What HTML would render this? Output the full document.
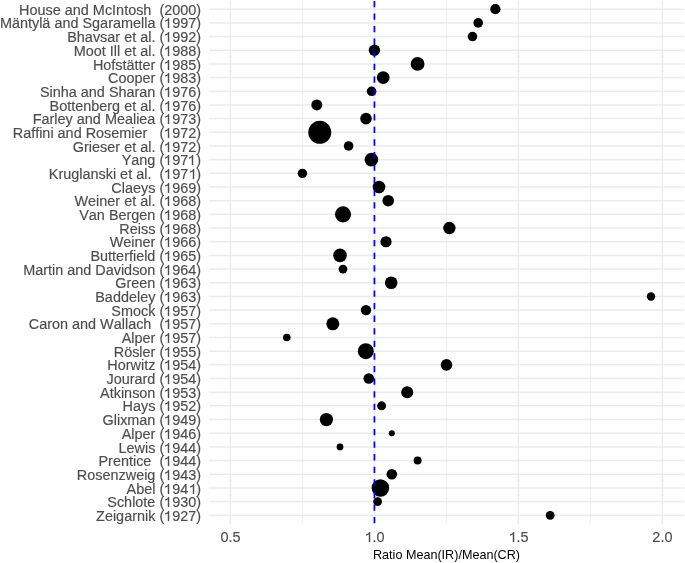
<!DOCTYPE html><html><head><meta charset="utf-8"><style>html,body{margin:0;padding:0;background:#fff;width:685px;height:563px;overflow:hidden}svg{display:block;will-change:transform}text{font-family:"Liberation Sans",sans-serif;font-kerning:none}</style></head><body>
<svg width="685" height="563" viewBox="0 0 685 563">
<rect width="685" height="563" fill="#fff"/>
<line x1="302.44" y1="0.99" x2="302.44" y2="523.7" stroke="#EBEBEB" stroke-width="0.8"/>
<line x1="446.43" y1="0.99" x2="446.43" y2="523.7" stroke="#EBEBEB" stroke-width="0.8"/>
<line x1="590.41" y1="0.99" x2="590.41" y2="523.7" stroke="#EBEBEB" stroke-width="0.8"/>
<line x1="230.45" y1="0.99" x2="230.45" y2="523.7" stroke="#EBEBEB" stroke-width="1.5"/>
<line x1="374.44" y1="0.99" x2="374.44" y2="523.7" stroke="#EBEBEB" stroke-width="1.5"/>
<line x1="518.42" y1="0.99" x2="518.42" y2="523.7" stroke="#EBEBEB" stroke-width="1.5"/>
<line x1="662.40" y1="0.99" x2="662.40" y2="523.7" stroke="#EBEBEB" stroke-width="1.5"/>
<line x1="209.0" y1="9.20" x2="684.0" y2="9.20" stroke="#EBEBEB" stroke-width="1.5"/>
<line x1="209.0" y1="22.88" x2="684.0" y2="22.88" stroke="#EBEBEB" stroke-width="1.5"/>
<line x1="209.0" y1="36.56" x2="684.0" y2="36.56" stroke="#EBEBEB" stroke-width="1.5"/>
<line x1="209.0" y1="50.23" x2="684.0" y2="50.23" stroke="#EBEBEB" stroke-width="1.5"/>
<line x1="209.0" y1="63.91" x2="684.0" y2="63.91" stroke="#EBEBEB" stroke-width="1.5"/>
<line x1="209.0" y1="77.59" x2="684.0" y2="77.59" stroke="#EBEBEB" stroke-width="1.5"/>
<line x1="209.0" y1="91.27" x2="684.0" y2="91.27" stroke="#EBEBEB" stroke-width="1.5"/>
<line x1="209.0" y1="104.95" x2="684.0" y2="104.95" stroke="#EBEBEB" stroke-width="1.5"/>
<line x1="209.0" y1="118.62" x2="684.0" y2="118.62" stroke="#EBEBEB" stroke-width="1.5"/>
<line x1="209.0" y1="132.30" x2="684.0" y2="132.30" stroke="#EBEBEB" stroke-width="1.5"/>
<line x1="209.0" y1="145.98" x2="684.0" y2="145.98" stroke="#EBEBEB" stroke-width="1.5"/>
<line x1="209.0" y1="159.66" x2="684.0" y2="159.66" stroke="#EBEBEB" stroke-width="1.5"/>
<line x1="209.0" y1="173.34" x2="684.0" y2="173.34" stroke="#EBEBEB" stroke-width="1.5"/>
<line x1="209.0" y1="187.01" x2="684.0" y2="187.01" stroke="#EBEBEB" stroke-width="1.5"/>
<line x1="209.0" y1="200.69" x2="684.0" y2="200.69" stroke="#EBEBEB" stroke-width="1.5"/>
<line x1="209.0" y1="214.37" x2="684.0" y2="214.37" stroke="#EBEBEB" stroke-width="1.5"/>
<line x1="209.0" y1="228.05" x2="684.0" y2="228.05" stroke="#EBEBEB" stroke-width="1.5"/>
<line x1="209.0" y1="241.73" x2="684.0" y2="241.73" stroke="#EBEBEB" stroke-width="1.5"/>
<line x1="209.0" y1="255.40" x2="684.0" y2="255.40" stroke="#EBEBEB" stroke-width="1.5"/>
<line x1="209.0" y1="269.08" x2="684.0" y2="269.08" stroke="#EBEBEB" stroke-width="1.5"/>
<line x1="209.0" y1="282.76" x2="684.0" y2="282.76" stroke="#EBEBEB" stroke-width="1.5"/>
<line x1="209.0" y1="296.44" x2="684.0" y2="296.44" stroke="#EBEBEB" stroke-width="1.5"/>
<line x1="209.0" y1="310.12" x2="684.0" y2="310.12" stroke="#EBEBEB" stroke-width="1.5"/>
<line x1="209.0" y1="323.79" x2="684.0" y2="323.79" stroke="#EBEBEB" stroke-width="1.5"/>
<line x1="209.0" y1="337.47" x2="684.0" y2="337.47" stroke="#EBEBEB" stroke-width="1.5"/>
<line x1="209.0" y1="351.15" x2="684.0" y2="351.15" stroke="#EBEBEB" stroke-width="1.5"/>
<line x1="209.0" y1="364.83" x2="684.0" y2="364.83" stroke="#EBEBEB" stroke-width="1.5"/>
<line x1="209.0" y1="378.51" x2="684.0" y2="378.51" stroke="#EBEBEB" stroke-width="1.5"/>
<line x1="209.0" y1="392.18" x2="684.0" y2="392.18" stroke="#EBEBEB" stroke-width="1.5"/>
<line x1="209.0" y1="405.86" x2="684.0" y2="405.86" stroke="#EBEBEB" stroke-width="1.5"/>
<line x1="209.0" y1="419.54" x2="684.0" y2="419.54" stroke="#EBEBEB" stroke-width="1.5"/>
<line x1="209.0" y1="433.22" x2="684.0" y2="433.22" stroke="#EBEBEB" stroke-width="1.5"/>
<line x1="209.0" y1="446.90" x2="684.0" y2="446.90" stroke="#EBEBEB" stroke-width="1.5"/>
<line x1="209.0" y1="460.57" x2="684.0" y2="460.57" stroke="#EBEBEB" stroke-width="1.5"/>
<line x1="209.0" y1="474.25" x2="684.0" y2="474.25" stroke="#EBEBEB" stroke-width="1.5"/>
<line x1="209.0" y1="487.93" x2="684.0" y2="487.93" stroke="#EBEBEB" stroke-width="1.5"/>
<line x1="209.0" y1="501.61" x2="684.0" y2="501.61" stroke="#EBEBEB" stroke-width="1.5"/>
<line x1="209.0" y1="515.29" x2="684.0" y2="515.29" stroke="#EBEBEB" stroke-width="1.5"/>
<circle cx="495.4" cy="9.20" r="5.10" fill="#000"/>
<circle cx="478.2" cy="22.88" r="4.80" fill="#000"/>
<circle cx="472.5" cy="36.56" r="4.75" fill="#000"/>
<circle cx="374.4" cy="50.23" r="5.70" fill="#000"/>
<circle cx="417.6" cy="63.91" r="6.90" fill="#000"/>
<circle cx="383.2" cy="77.59" r="6.40" fill="#000"/>
<circle cx="371.6" cy="91.27" r="4.80" fill="#000"/>
<circle cx="316.8" cy="104.95" r="5.50" fill="#000"/>
<circle cx="366.0" cy="118.62" r="5.80" fill="#000"/>
<circle cx="319.8" cy="132.30" r="11.50" fill="#000"/>
<circle cx="348.6" cy="145.98" r="4.80" fill="#000"/>
<circle cx="371.4" cy="159.66" r="6.80" fill="#000"/>
<circle cx="302.4" cy="173.34" r="4.70" fill="#000"/>
<circle cx="379.0" cy="187.01" r="6.30" fill="#000"/>
<circle cx="388.2" cy="200.69" r="5.80" fill="#000"/>
<circle cx="343.0" cy="214.37" r="8.10" fill="#000"/>
<circle cx="449.4" cy="228.05" r="6.20" fill="#000"/>
<circle cx="386.0" cy="241.73" r="5.60" fill="#000"/>
<circle cx="340.0" cy="255.40" r="6.80" fill="#000"/>
<circle cx="343.0" cy="269.08" r="4.40" fill="#000"/>
<circle cx="391.2" cy="282.76" r="6.30" fill="#000"/>
<circle cx="651.0" cy="296.44" r="4.20" fill="#000"/>
<circle cx="366.0" cy="310.12" r="5.20" fill="#000"/>
<circle cx="332.8" cy="323.79" r="6.50" fill="#000"/>
<circle cx="286.8" cy="337.47" r="3.80" fill="#000"/>
<circle cx="365.8" cy="351.15" r="8.00" fill="#000"/>
<circle cx="446.5" cy="364.83" r="5.80" fill="#000"/>
<circle cx="368.8" cy="378.51" r="5.30" fill="#000"/>
<circle cx="407.2" cy="392.18" r="6.00" fill="#000"/>
<circle cx="381.6" cy="405.86" r="4.50" fill="#000"/>
<circle cx="326.4" cy="419.54" r="6.60" fill="#000"/>
<circle cx="391.8" cy="433.22" r="3.00" fill="#000"/>
<circle cx="340.0" cy="446.90" r="3.40" fill="#000"/>
<circle cx="417.6" cy="460.57" r="4.00" fill="#000"/>
<circle cx="391.8" cy="474.25" r="5.30" fill="#000"/>
<circle cx="380.4" cy="487.93" r="8.80" fill="#000"/>
<circle cx="377.6" cy="501.61" r="4.40" fill="#000"/>
<circle cx="550.2" cy="515.29" r="4.40" fill="#000"/>
<clipPath id="pc"><rect x="209.0" y="0.99" width="475.0" height="522.71"/></clipPath>
<line clip-path="url(#pc)" x1="374.44" y1="0.99" x2="374.44" y2="523.7" stroke="#0000FF" stroke-width="1.75" stroke-linecap="butt" stroke-dasharray="6.3 6.29" stroke-dashoffset="0.14"/>
<g fill="#4D4D4D" stroke="#4D4D4D" stroke-width="0.15" font-size="14.43px" text-anchor="end">
<text class="lb" x="201.1" y="14.80" xml:space="preserve">House and McIntosh  (2000)</text>
<text class="lb" x="201.1" y="28.48" xml:space="preserve">Mäntylä and Sgaramella ( 997)</text>
<text class="lb" x="201.1" y="42.16" xml:space="preserve">Bhavsar et al. ( 992)</text>
<text class="lb" x="201.1" y="55.83" xml:space="preserve">Moot Ill et al. ( 988)</text>
<text class="lb" x="201.1" y="69.51" xml:space="preserve">Hofstätter ( 985)</text>
<text class="lb" x="201.1" y="83.19" xml:space="preserve">Cooper ( 983)</text>
<text class="lb" x="201.1" y="96.87" xml:space="preserve">Sinha and Sharan ( 976)</text>
<text class="lb" x="201.1" y="110.55" xml:space="preserve">Bottenberg et al. ( 976)</text>
<text class="lb" x="201.1" y="124.22" xml:space="preserve">Farley and Mealiea ( 973)</text>
<text class="lb" x="201.1" y="137.90" xml:space="preserve">Raffini and Rosemier   ( 972)</text>
<text class="lb" x="201.1" y="151.58" xml:space="preserve">Grieser et al. ( 972)</text>
<text class="lb" x="201.1" y="165.26" xml:space="preserve">Yang ( 97 )</text>
<text class="lb" x="201.1" y="178.94" xml:space="preserve">Kruglanski et al.  ( 97 )</text>
<text class="lb" x="201.1" y="192.61" xml:space="preserve">Claeys ( 969)</text>
<text class="lb" x="201.1" y="206.29" xml:space="preserve">Weiner et al. ( 968)</text>
<text class="lb" x="201.1" y="219.97" xml:space="preserve">Van Bergen ( 968)</text>
<text class="lb" x="201.1" y="233.65" xml:space="preserve">Reiss ( 968)</text>
<text class="lb" x="201.1" y="247.33" xml:space="preserve">Weiner ( 966)</text>
<text class="lb" x="201.1" y="261.00" xml:space="preserve">Butterfield ( 965)</text>
<text class="lb" x="201.1" y="274.68" xml:space="preserve">Martin and Davidson ( 964)</text>
<text class="lb" x="201.1" y="288.36" xml:space="preserve">Green ( 963)</text>
<text class="lb" x="201.1" y="302.04" xml:space="preserve">Baddeley ( 963)</text>
<text class="lb" x="201.1" y="315.72" xml:space="preserve">Smock ( 957)</text>
<text class="lb" x="201.1" y="329.39" xml:space="preserve">Caron and Wallach  ( 957)</text>
<text class="lb" x="201.1" y="343.07" xml:space="preserve">Alper ( 957)</text>
<text class="lb" x="201.1" y="356.75" xml:space="preserve">Rösler ( 955)</text>
<text class="lb" x="201.1" y="370.43" xml:space="preserve">Horwitz ( 954)</text>
<text class="lb" x="201.1" y="384.11" xml:space="preserve">Jourard ( 954)</text>
<text class="lb" x="201.1" y="397.78" xml:space="preserve">Atkinson ( 953)</text>
<text class="lb" x="201.1" y="411.46" xml:space="preserve">Hays ( 952)</text>
<text class="lb" x="201.1" y="425.14" xml:space="preserve">Glixman ( 949)</text>
<text class="lb" x="201.1" y="438.82" xml:space="preserve">Alper ( 946)</text>
<text class="lb" x="201.1" y="452.50" xml:space="preserve">Lewis ( 944)</text>
<text class="lb" x="201.1" y="466.17" xml:space="preserve">Prentice  ( 944)</text>
<text class="lb" x="201.1" y="479.85" xml:space="preserve">Rosenzweig ( 943)</text>
<text class="lb" x="201.1" y="493.53" xml:space="preserve">Abel ( 94 )</text>
<text class="lb" x="201.1" y="507.21" xml:space="preserve">Schlote ( 930)</text>
<text class="lb" x="201.1" y="520.89" xml:space="preserve">Zeigarnik ( 927)</text>
</g>
<g fill="#4D4D4D" stroke="#4D4D4D" stroke-width="0.15" font-size="14.43px" text-anchor="middle">
<text class="lb" x="230.45" y="542.3">0.5</text>
<text class="lb" x="374.44" y="542.3"> .0</text>
<text class="lb" x="518.42" y="542.3"> .5</text>
<text class="lb" x="662.40" y="542.3">2.0</text>
</g>
<text x="446.50" y="559.0" font-size="12.6px" fill="#000" text-anchor="middle">Ratio Mean(IR)/Mean(CR)</text>
<defs><path id="one" d="M763,0 L583,0 L583,1102.4 Q518,1042.8 415,984.2 Q312,925.6 185,893.8 L185,1061.1 Q371,1128.4 482.5,1223.5 Q594,1318.7 639,1409.0 L763,1409.0 Z"/></defs>
<g fill="#4D4D4D" stroke="#4D4D4D" stroke-width="21.3">
<use href="#one" transform="translate(163.76,28.00) scale(0.007046,-0.007046)"/>
<use href="#one" transform="translate(163.76,42.00) scale(0.007046,-0.007046)"/>
<use href="#one" transform="translate(163.76,56.00) scale(0.007046,-0.007046)"/>
<use href="#one" transform="translate(163.76,70.00) scale(0.007046,-0.007046)"/>
<use href="#one" transform="translate(163.76,83.00) scale(0.007046,-0.007046)"/>
<use href="#one" transform="translate(163.76,97.00) scale(0.007046,-0.007046)"/>
<use href="#one" transform="translate(163.76,111.00) scale(0.007046,-0.007046)"/>
<use href="#one" transform="translate(163.76,124.00) scale(0.007046,-0.007046)"/>
<use href="#one" transform="translate(163.76,138.00) scale(0.007046,-0.007046)"/>
<use href="#one" transform="translate(163.76,152.00) scale(0.007046,-0.007046)"/>
<use href="#one" transform="translate(163.76,165.00) scale(0.007046,-0.007046)"/>
<use href="#one" transform="translate(187.76,165.00) scale(0.007046,-0.007046)"/>
<use href="#one" transform="translate(163.76,179.00) scale(0.007046,-0.007046)"/>
<use href="#one" transform="translate(188.76,179.00) scale(0.007046,-0.007046)"/>
<use href="#one" transform="translate(163.76,193.00) scale(0.007046,-0.007046)"/>
<use href="#one" transform="translate(163.76,206.00) scale(0.007046,-0.007046)"/>
<use href="#one" transform="translate(163.76,220.00) scale(0.007046,-0.007046)"/>
<use href="#one" transform="translate(163.76,234.00) scale(0.007046,-0.007046)"/>
<use href="#one" transform="translate(163.76,247.00) scale(0.007046,-0.007046)"/>
<use href="#one" transform="translate(163.76,261.00) scale(0.007046,-0.007046)"/>
<use href="#one" transform="translate(163.76,275.00) scale(0.007046,-0.007046)"/>
<use href="#one" transform="translate(163.76,288.00) scale(0.007046,-0.007046)"/>
<use href="#one" transform="translate(163.76,302.00) scale(0.007046,-0.007046)"/>
<use href="#one" transform="translate(163.76,316.00) scale(0.007046,-0.007046)"/>
<use href="#one" transform="translate(163.76,329.00) scale(0.007046,-0.007046)"/>
<use href="#one" transform="translate(163.76,343.00) scale(0.007046,-0.007046)"/>
<use href="#one" transform="translate(163.76,357.00) scale(0.007046,-0.007046)"/>
<use href="#one" transform="translate(163.76,370.00) scale(0.007046,-0.007046)"/>
<use href="#one" transform="translate(163.76,384.00) scale(0.007046,-0.007046)"/>
<use href="#one" transform="translate(163.76,398.00) scale(0.007046,-0.007046)"/>
<use href="#one" transform="translate(163.76,411.00) scale(0.007046,-0.007046)"/>
<use href="#one" transform="translate(163.76,425.00) scale(0.007046,-0.007046)"/>
<use href="#one" transform="translate(163.76,439.00) scale(0.007046,-0.007046)"/>
<use href="#one" transform="translate(163.76,453.00) scale(0.007046,-0.007046)"/>
<use href="#one" transform="translate(163.76,466.00) scale(0.007046,-0.007046)"/>
<use href="#one" transform="translate(163.76,480.00) scale(0.007046,-0.007046)"/>
<use href="#one" transform="translate(163.76,494.00) scale(0.007046,-0.007046)"/>
<use href="#one" transform="translate(188.76,494.00) scale(0.007046,-0.007046)"/>
<use href="#one" transform="translate(163.76,507.00) scale(0.007046,-0.007046)"/>
<use href="#one" transform="translate(163.76,521.00) scale(0.007046,-0.007046)"/>
<use href="#one" transform="translate(364.76,542.00) scale(0.007046,-0.007046)"/>
<use href="#one" transform="translate(508.76,542.00) scale(0.007046,-0.007046)"/>
</g>
</svg></body></html>
